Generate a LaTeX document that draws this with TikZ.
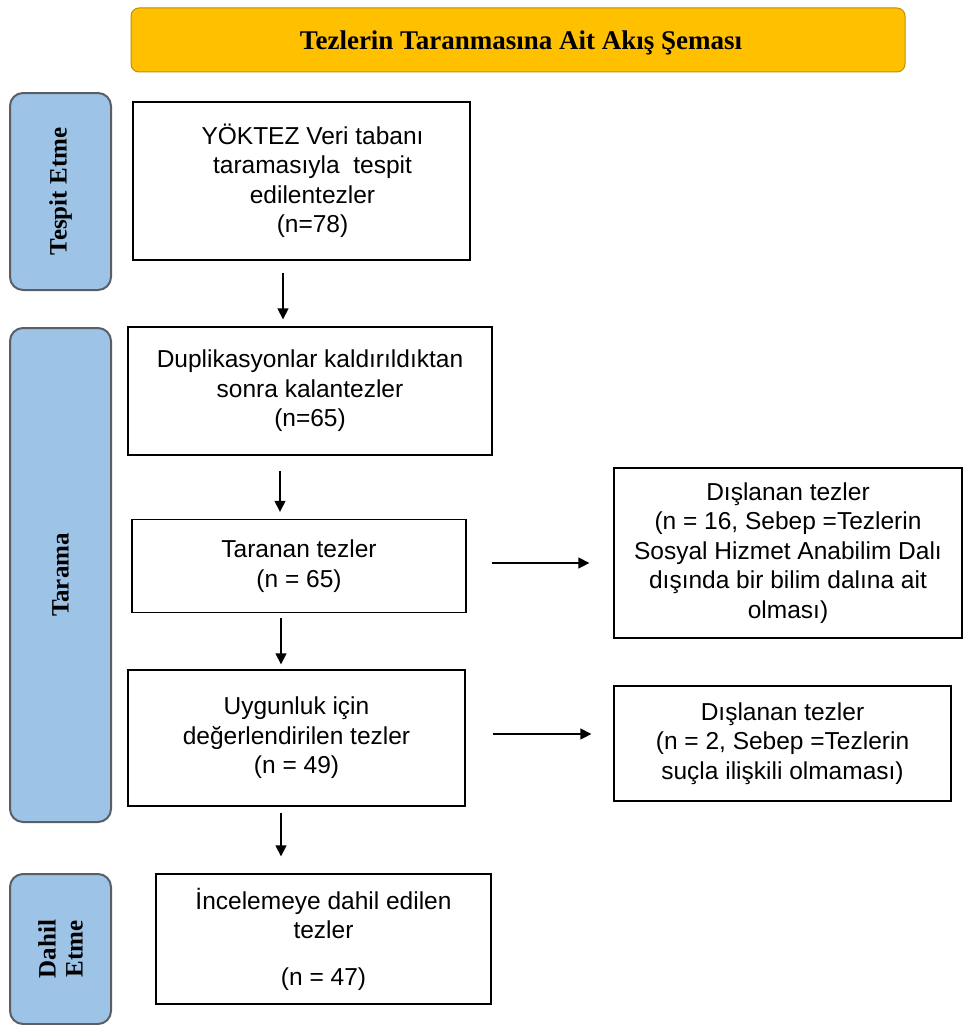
\documentclass[tikz,border=0pt]{standalone}
\usepackage{fontspec}
\setmainfont{Liberation Sans}
\newfontfamily\tnr{Liberation Serif}
\usetikzlibrary{arrows.meta}
\definecolor{titlefill}{HTML}{FFC000}
\definecolor{titledraw}{HTML}{C09000}
\definecolor{sidefill}{HTML}{9DC3E6}
\definecolor{sidedraw}{HTML}{5A5F66}
\tikzset{
  box/.style={draw=black, line width=1.3pt, inner sep=0pt, align=center,
    font=\fontsize{24.5}{29.5}\selectfont},
  side/.style={draw=sidedraw, fill=sidefill, line width=2pt, rounded corners=13pt, inner sep=0pt},
  sidetext/.style={rotate=90, align=center, font=\tnr\bfseries\fontsize{25}{27}\selectfont},
  arr/.style={line width=1.3pt, -{Triangle[length=11pt,width=11pt]}},
}
\begin{document}
\begin{tikzpicture}[x=1pt,y=-1pt]
\useasboundingbox (0,0) rectangle (963,1025);
% title
\node[draw=titledraw, fill=titlefill, line width=1pt, rounded corners=8pt, inner sep=0pt,
  minimum width=774pt, minimum height=64pt] (title) at (518,40) {};
\node[font=\tnr\bfseries\fontsize{27}{29}\selectfont, inner sep=0pt] (titlet) at (521,43)
  {Tezlerin Taranmasına Ait Akış Şeması};
% side labels
\node[side, minimum width=101pt, minimum height=197pt] (s1) at (60.5,191.5) {};
\node[sidetext] (s1t) at (s1.center) {Tespit Etme};
\node[side, minimum width=101pt, minimum height=494pt] (s2) at (60.5,575) {};
\node[sidetext] (s2t) at (s2.center) {Tarama};
\node[side, minimum width=101pt, minimum height=150pt] (s3) at (60.5,949) {};
\node[sidetext] (s3t) at (s3.center) {Dahil\\Etme};
% boxes
\node[box, minimum width=337pt, minimum height=158pt] (b1) at (301.5,181)
  {\hspace*{22pt}YÖKTEZ Veri tabanı\\\hspace*{22pt}taramasıyla~ tespit\\\hspace*{22pt}edilentezler\\\hspace*{22pt}(n=78)};
\node[box, minimum width=364pt, minimum height=128pt] (b2) at (310,391)
  {Duplikasyonlar kaldırıldıktan\\sonra kalantezler\\(n=65)};
\node[box, minimum width=334pt, minimum height=93pt] (b3) at (299,566)
  {Taranan tezler\\(n = 65)};
\node[box, minimum width=337pt, minimum height=136pt] (b4) at (296.5,738)
  {Uygunluk için\\değerlendirilen tezler\\(n = 49)};
\node[box, minimum width=335pt, minimum height=130pt] (b5) at (323.5,939)
  {İncelemeye dahil edilen\\tezler\\[17pt](n = 47)};
\node[box, minimum width=348pt, minimum height=170pt] (e1) at (788,553)
  {Dışlanan tezler\\(n = 16, Sebep =Tezlerin\\Sosyal Hizmet Anabilim Dalı\\dışında bir bilim dalına ait\\olması)};
\node[box, minimum width=337pt, minimum height=115pt] (e2) at (782.5,743.5)
  {Dışlanan tezler\\(n = 2, Sebep =Tezlerin\\suçla ilişkili olmaması)};
% arrow x positions
\coordinate (x1) at (283,0);
\coordinate (x2) at (280,0);
\coordinate (x3) at (281,0);
\coordinate (y1) at (0,563);
\coordinate (y2) at (0,734);
% connectors
\draw[arr, shorten <=12pt, shorten >=7pt] (b1.south -| x1) -- (b2.north -| x1);
\draw[arr, shorten <=15pt, shorten >=7pt] (b2.south -| x2) -- (b3.north -| x2);
\draw[arr, shorten <=5pt, shorten >=5pt] (b3.south -| x3) -- (b4.north -| x3);
\draw[arr, shorten <=6pt, shorten >=17pt] (b4.south -| x3) -- (b5.north -| x3);
\draw[arr, shorten <=25pt, shorten >=24pt] (b3.east |- y1) -- (e1.west |- y1);
\draw[arr, shorten <=27pt, shorten >=22pt] (b4.east |- y2) -- (e2.west |- y2);
\end{tikzpicture}
\end{document}
